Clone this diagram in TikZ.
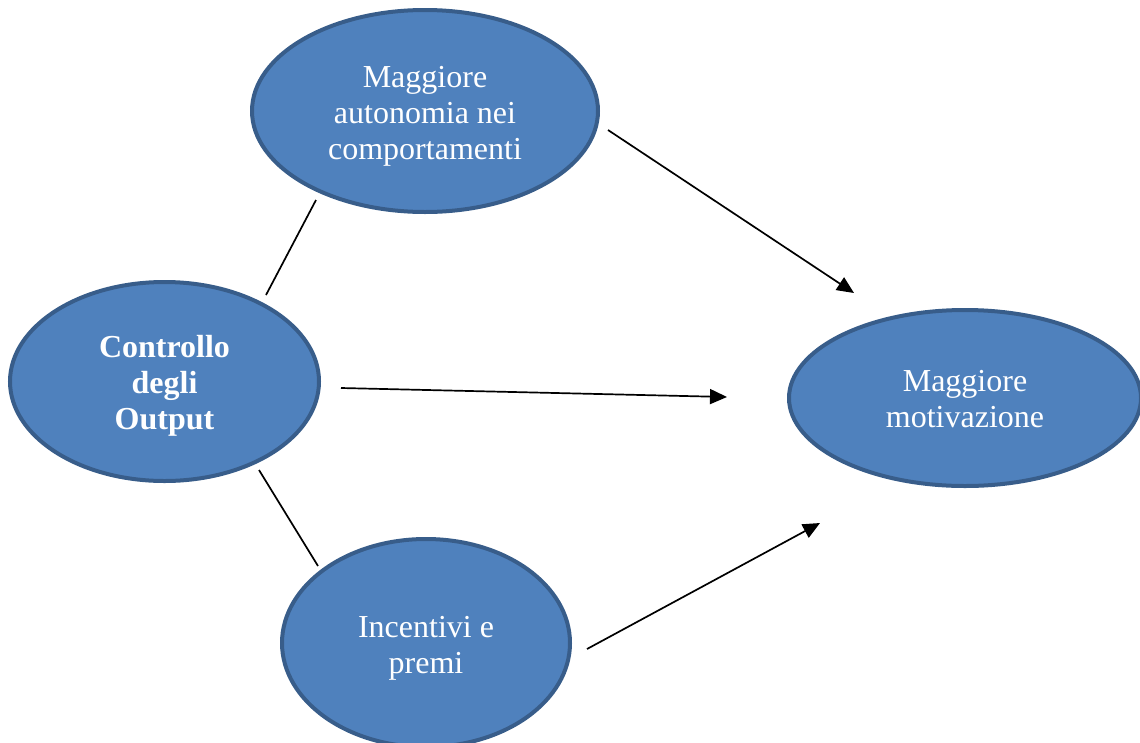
\documentclass[tikz,border=0pt]{standalone}
\usepackage{fontspec}
\setmainfont{Liberation Serif}
\usetikzlibrary{shapes.geometric,arrows.meta}
\definecolor{bubblefill}{HTML}{4F81BD}
\definecolor{bubbleline}{HTML}{385D8A}
\tikzset{
  bubble/.style={ellipse, fill=bubblefill, draw=bubbleline, line width=4pt,
    inner sep=0pt},
  bubtext/.style={text=white, align=center, inner sep=0pt,
    font=\fontsize{32}{36}\selectfont},
  link/.style={line width=1.7pt, draw=black},
  flow/.style={link, -{Triangle[length=17pt,width=15pt]}}
}
\begin{document}
\begin{tikzpicture}[x=1pt,y=-1pt]
  \useasboundingbox (0,0) rectangle (1140,742);
  % the four ellipses
  \node[bubble, minimum width=346pt, minimum height=202pt] (auto) at (425,111) {};
  \node[bubble, minimum width=309pt, minimum height=199pt] (ctrl) at (164.5,381.5) {};
  \node[bubble, minimum width=352pt, minimum height=176pt] (moti) at (965,398) {};
  \node[bubble, minimum width=288pt, minimum height=208pt] (prem) at (426,643) {};
  % their labels
  \node[bubtext] (auto-t) at ([yshift=-5pt]auto.center)
    {Maggiore\\autonomia nei\\comportamenti};
  \node[bubtext, font=\fontsize{32}{36}\selectfont\bfseries] (ctrl-t)
    at ([yshift=-4pt]ctrl.center) {Controllo\\degli\\Output};
  \node[bubtext] (moti-t) at ([yshift=-1pt]moti.center) {Maggiore\\motivazione};
  \node[bubtext] (prem-t) at ([yshift=-5pt]prem.center) {Incentivi e\\premi};
  % loose ends of the connectors
  \coordinate (c1) at (266,295);
  \coordinate (c2) at (316,200);
  \coordinate (c3) at (259,470);
  \coordinate (c4) at (318,566);
  \coordinate (a1s) at (608,130);
  \coordinate (a1e) at (854,293);
  \coordinate (a2s) at (341,388);
  \coordinate (a2e) at (727,397);
  \coordinate (a3s) at (587,649);
  \coordinate (a3e) at (820,523);
  % plain links
  \draw[link] (c1) -- (c2);
  \draw[link] (c3) -- (c4);
  % arrows towards the motivation ellipse
  \draw[flow] (a1s) -- (a1e);
  \draw[flow] (a2s) -- (a2e);
  \draw[flow] (a3s) -- (a3e);
\end{tikzpicture}
\end{document}
